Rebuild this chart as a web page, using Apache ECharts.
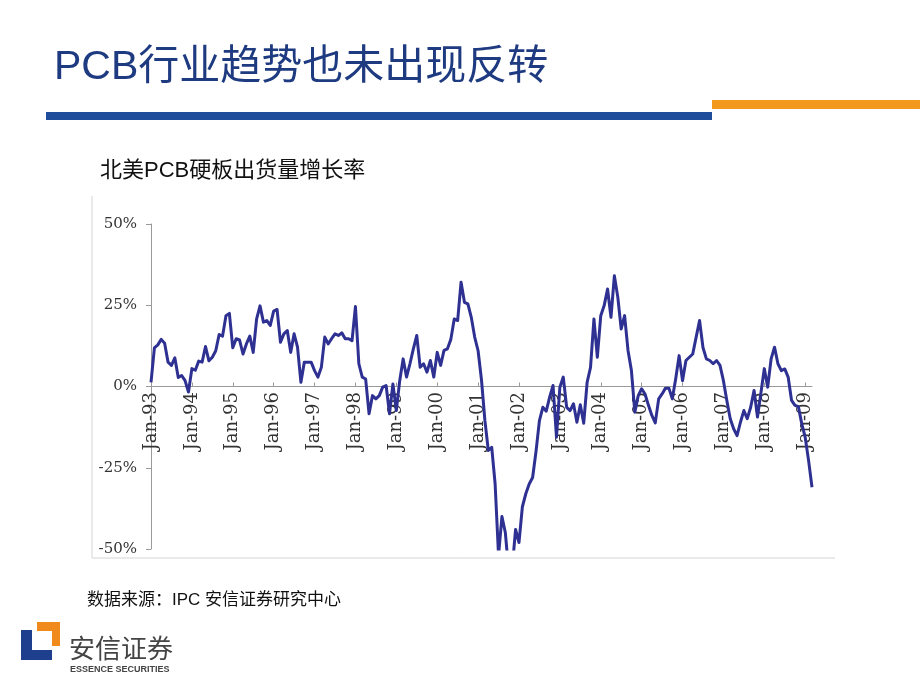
<!DOCTYPE html>
<html>
<head>
<meta charset="utf-8">
<script src="https://cdn.jsdelivr.net/npm/echarts@6/dist/echarts.min.js"></script>
<style>
html,body{margin:0;padding:0;background:#fff;}
#chart{width:920px;height:690px;}
</style>
</head>
<body>
<div id="chart"></div>
<script>
// ---- data ----
const titleText = 'PCB行业趋势也未出现反转';
const subtitleText = '北美PCB硬板出货量增长率';
const sourceText = '数据来源：IPC 安信证券研究中心';
const monthNames = ['Jan','Feb','Mar','Apr','May','Jun','Jul','Aug','Sep','Oct','Nov','Dec'];
const yearLabels = ['93','94','95','96','97','98','99','00','01','02','03','04','05','06','07','08','09'];
const yTicks = [-50, -25, 0, 25, 50];
// monthly growth rate (%), Jan-93 .. Mar-09
const growth = [
  1.3, 11.9, 12.8, 14.5, 13.3, 7.5, 6.5, 8.8, 2.8, 3.4, 1.8, -1.7,
  5.5, 5.0, 7.8, 7.5, 12.3, 7.9, 9.0, 11.0, 16.0, 15.5, 21.8, 22.5,
  11.9, 14.7, 14.3, 10.0, 13.1, 15.5, 10.5, 20.8, 24.8, 19.8, 20.3, 18.8,
  23.2, 23.7, 13.6, 16.2, 17.2, 10.5, 16.2, 12.1, 1.3, 7.5, 7.5, 7.5,
  4.9, 2.9, 5.9, 15.2, 13.1, 14.7, 16.2, 15.7, 16.5, 14.7, 14.7, 14.1,
  24.6, 7.0, 2.9, 2.3, -8.4, -2.8, -3.8, -2.8, -0.2, 0.3, -8.4, 0.8,
  -7.4, 1.8, 8.5, 2.9, 7.0, 11.6, 15.7, 5.9, 7.0, 4.4, 8.0, 2.9,
  10.5, 6.5, 11.1, 11.6, 14.5, 20.8, 20.3, 32.1, 25.9, 25.4, 21.3, 15.2,
  11.0, 2.0, -10.5, -19.7, -18.7, -30.0, -52.0, -40.0, -45.0, -57.0, -56.0, -44.0,
  -48.0, -37.0, -33.0, -30.0, -28.0, -20.0, -10.5, -6.4, -7.6, -3.3, 0.3, -15.6,
  -0.2, 2.9, -6.4, -7.4, -5.3, -11.0, -5.6, -11.3, 1.3, 5.9, 20.8, 9.0,
  21.8, 24.9, 30.0, 21.3, 34.1, 27.5, 17.7, 21.8, 11.1, 4.9, -7.9, -2.8,
  -0.7, -2.3, -5.8, -8.9, -11.2, -3.8, -2.3, -0.5, -0.5, -3.8, 2.4, 9.5,
  1.8, 8.0, 9.0, 10.0, 15.2, 20.3, 12.0, 8.5, 8.0, 7.0, 8.0, 6.5,
  1.8, -4.3, -9.9, -13.0, -15.1, -11.0, -7.4, -9.9, -6.4, -1.2, -9.4, -2.0,
  5.5, -0.2, 8.5, 12.1, 7.0, 4.9, 5.4, 2.9, -4.3, -5.8, -6.2, -11.5,
  -15.6, -22.8, -31.0
];

// build category labels (one per month)
const categories = [];
for (let i = 0; i < growth.length; i++) {
  categories.push(monthNames[i % 12] + '-' + yearLabels[Math.floor(i / 12)]);
}

const chart = echarts.init(document.getElementById('chart'));
const cjkSans = '"Liberation Sans", Arial, "Noto Sans CJK SC", sans-serif';
const option = {
  backgroundColor: '#ffffff',
  animation: false,
  grid: { left: 151, right: 108, top: 224, bottom: 141, containLabel: false },
  xAxis: {
    type: 'category',
    data: categories,
    boundaryGap: false,
    axisLine: { onZero: true, lineStyle: { color: '#9a9a9a', width: 1 } },
    axisTick: { show: true, inside: true, interval: 11, length: 4, lineStyle: { color: '#9a9a9a' } },
    axisLabel: {
      interval: 11,
      rotate: 90,
      margin: -157,
      fontFamily: '"DejaVu Serif", "Liberation Serif", serif',
      fontSize: 18,
      color: '#333333'
    },
    splitLine: { show: false }
  },
  yAxis: {
    type: 'value',
    min: yTicks[0],
    max: yTicks[yTicks.length - 1],
    interval: 25,
    axisLine: { show: true, lineStyle: { color: '#9a9a9a', width: 1 } },
    axisTick: { show: true, length: 5, lineStyle: { color: '#9a9a9a' } },
    axisLabel: {
      formatter: '{value}%',
      margin: 14,
      fontFamily: '"DejaVu Serif", "Liberation Serif", serif',
      fontSize: 15,
      color: '#333333'
    },
    splitLine: { show: false }
  },
  series: [{
    type: 'line',
    data: growth,
    symbol: 'none',
    clip: true,
    z: 3,
    lineStyle: { color: '#2E3192', width: 3, join: 'round' }
  }],
  graphic: [
    // title
    { type: 'text', left: 54, top: 47, style: { text: titleText, font: 'normal 41px ' + cjkSans, fill: '#1E3A80' } },
    // header bars
    { type: 'rect', shape: { x: 46, y: 112, width: 666, height: 8 }, style: { fill: '#1F4D9C' } },
    { type: 'rect', shape: { x: 712, y: 100, width: 208, height: 9 }, style: { fill: '#F39A1E' } },
    // subtitle
    { type: 'text', left: 100, top: 160, style: { text: subtitleText, font: 'normal 22px ' + cjkSans, fill: '#111111' } },
    // chart frame (left & bottom)
    { type: 'line', shape: { x1: 92, y1: 196, x2: 92, y2: 558 }, style: { stroke: '#d4d4d4', lineWidth: 1 } },
    { type: 'line', shape: { x1: 92, y1: 558, x2: 835, y2: 558 }, style: { stroke: '#d4d4d4', lineWidth: 1 } },
    // source
    { type: 'text', left: 87, top: 592, style: { text: sourceText, font: 'normal 17px ' + cjkSans, fill: '#111111' } },
    // logo
    { type: 'polygon', shape: { points: [[21,630],[32,630],[32,650],[52,650],[52,660],[21,660]] }, style: { fill: '#1E3F8E' } },
    { type: 'polygon', shape: { points: [[37,622],[60,622],[60,646],[52,646],[52,631],[37,631]] }, style: { fill: '#F08A1C' } },
    { type: 'text', left: 69, top: 635, style: { text: '安信证券', font: 'normal 26px "Noto Sans CJK SC", sans-serif', fill: '#444444' } },
    { type: 'text', left: 70, top: 665, style: { text: 'ESSENCE SECURITIES', font: 'bold 9px "Liberation Sans", Arial, sans-serif', fill: '#444444' } }
  ]
};
chart.setOption(option);
</script>
</body>
</html>
